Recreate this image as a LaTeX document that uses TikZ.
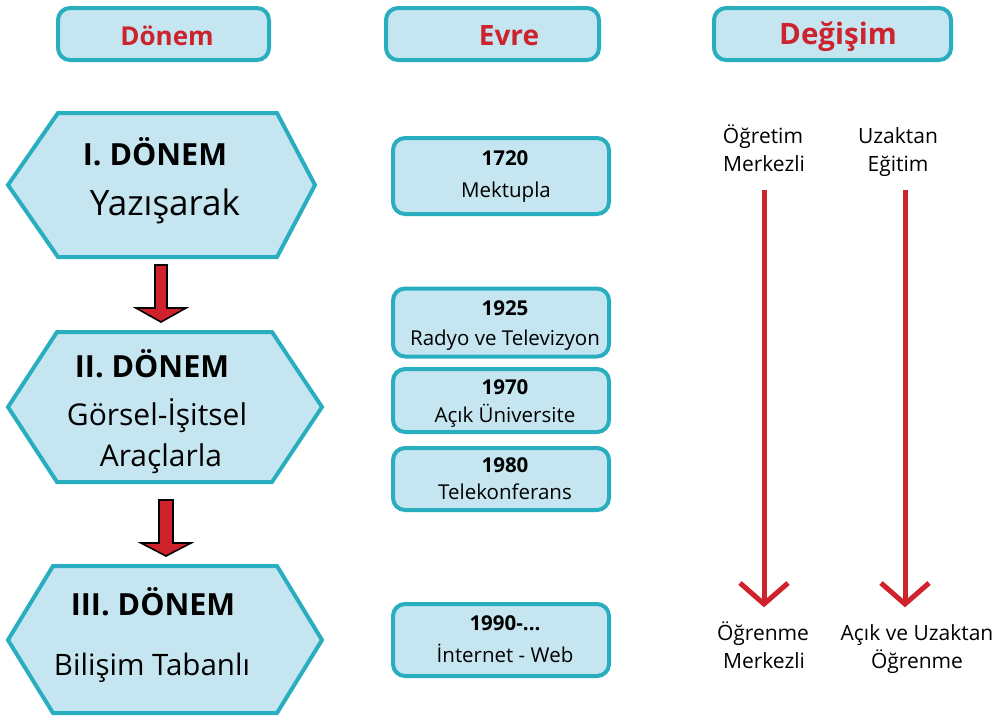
\documentclass[tikz,border=0pt]{standalone}
\usepackage{fontspec}
\setmainfont{Open Sans}
\usetikzlibrary{calc}
\definecolor{boxfill}{RGB}{197,230,240}
\definecolor{boxedge}{RGB}{40,174,191}
\definecolor{hdrred}{RGB}{204,36,46}
\definecolor{arrred}{RGB}{208,34,44}
\tikzset{
  hdrbox/.style={draw=boxedge, fill=boxfill, line width=4pt, rounded corners=12pt, minimum height=52pt, inner sep=0pt},
  hdrtext/.style={anchor=base, text=hdrred, font=\bfseries\fontsize{26}{30}\selectfont, inner sep=0pt},
  evrebox/.style={draw=boxedge, fill=boxfill, line width=4pt, rounded corners=12pt, minimum width=216pt, inner sep=0pt},
  evreyear/.style={anchor=base, font=\bfseries\fontsize{20.5}{24}\selectfont, inner sep=0pt},
  evretext/.style={anchor=base, font=\fontsize{20.5}{24}\selectfont, inner sep=0pt},
  hexshape/.style={draw=boxedge, fill=boxfill, line width=4pt, line join=miter},
  hexbold/.style={anchor=base, font=\bfseries\fontsize{30.5}{34}\selectfont, inner sep=0pt},
  hexreg/.style={anchor=base, font=\fontsize{30}{34}\selectfont, inner sep=0pt},
  sidetext/.style={anchor=base, font=\fontsize{21}{24}\selectfont, inner sep=0pt},
  blockarrow/.style={draw=black, fill=arrred, line width=1.6pt, line join=miter},
  changearrow/.style={draw=arrred, line width=5pt},
}
\begin{document}
\begin{tikzpicture}[x=1pt, y=-1pt]
\useasboundingbox (0,0) rectangle (995,716);

% headers
\node[hdrbox, minimum width=211pt] (hdonem) at (163.5,34) {};
\node[hdrtext] (tdonem) at (167,45) {Dönem};
\node[hdrbox, minimum width=213pt] (hevre) at (492.5,34) {};
\node[hdrtext, font=\bfseries\fontsize{28}{30}\selectfont] (tevre) at (509,45) {Evre};
\node[hdrbox, minimum width=237pt] (hdegisim) at (832.5,34) {};
\node[hdrtext, font=\bfseries\fontsize{29.5}{30}\selectfont] (tdegisim) at (838,44) {Değişim};

% hexagons
\draw[hexshape] (8,185) -- (58,113) -- (277,113) -- (315,185) -- (277,257) -- (58,257) -- cycle;
\node[hexbold] (d1a) at (155,165) {I. DÖNEM};
\node[hexreg, font=\fontsize{35}{38}\selectfont] (d1b) at (165,215) {Yazışarak};

\draw[hexshape] (8,407) -- (57,332) -- (272,332) -- (322,407) -- (272,482) -- (57,482) -- cycle;
\node[hexbold] (d2a) at (152,377) {II. DÖNEM};
\node[hexreg] (d2b) at (157,425) {Görsel-İşitsel};
\node[hexreg] (d2c) at (161,466) {Araçlarla};

\draw[hexshape] (8,640) -- (53,566) -- (277,566) -- (322,640) -- (277,713) -- (53,713) -- cycle;
\node[hexbold] (d3a) at (153,615) {III. DÖNEM};
\node[hexreg, font=\fontsize{29.5}{34}\selectfont] (d3b) at (152,675) {Bilişim Tabanlı};

% block arrows between periods
\draw[blockarrow] (155,265) -- (167,265) -- (167,308) -- (186,308) -- (161,322) -- (136,308) -- (155,308) -- cycle;
\draw[blockarrow] (159,500) -- (173,500) -- (173,543) -- (191,543) -- (166,556) -- (141,543) -- (159,543) -- cycle;

% evre boxes
\node[evrebox, minimum height=76pt] (e1) at (501,176) {};
\node[evreyear] (e1y) at (505,165) {1720};
\node[evretext] (e1t) at (506,197) {Mektupla};
\node[evrebox, minimum height=68pt] (e2) at (501,322.5) {};
\node[evreyear] (e2y) at (505,315) {1925};
\node[evretext] (e2t) at (505,345) {Radyo ve Televizyon};
\node[evrebox, minimum height=63pt] (e3) at (501,400.5) {};
\node[evreyear] (e3y) at (505,394) {1970};
\node[evretext] (e3t) at (505,422) {Açık Üniversite};
\node[evrebox, minimum height=62pt] (e4) at (501,479) {};
\node[evreyear] (e4y) at (505,472) {1980};
\node[evretext] (e4t) at (505,499) {Telekonferans};
\node[evrebox, minimum height=72pt] (e5) at (501,640) {};
\node[evreyear] (e5y) at (505,630) {1990-...};
\node[evretext] (e5t) at (505,662) {İnternet - Web};

% change column
\node[sidetext] (c1a) at (763,143) {Öğretim};
\node[sidetext] (c1b) at (764,171) {Merkezli};
\node[sidetext] (c2a) at (898,143) {Uzaktan};
\node[sidetext] (c2b) at (898,171) {Eğitim};
\node[sidetext] (c3a) at (763,640) {Öğrenme};
\node[sidetext] (c3b) at (764,668) {Merkezli};
\node[sidetext] (c4a) at (917,640) {Açık ve Uzaktan};
\node[sidetext] (c4b) at (917,668) {Öğrenme};

\coordinate (s1) at (764,190);
\coordinate (t1) at (764,604);
\coordinate (s2) at (905,190);
\coordinate (t2) at (905,604);
\draw[changearrow] (s1) -- (t1);
\draw[changearrow, line join=miter] ($(t1)+(-24,-21)$) -- (t1) -- ($(t1)+(24,-21)$);
\draw[changearrow] (s2) -- (t2);
\draw[changearrow, line join=miter] ($(t2)+(-24,-21)$) -- (t2) -- ($(t2)+(24,-21)$);
\end{tikzpicture}
\end{document}
